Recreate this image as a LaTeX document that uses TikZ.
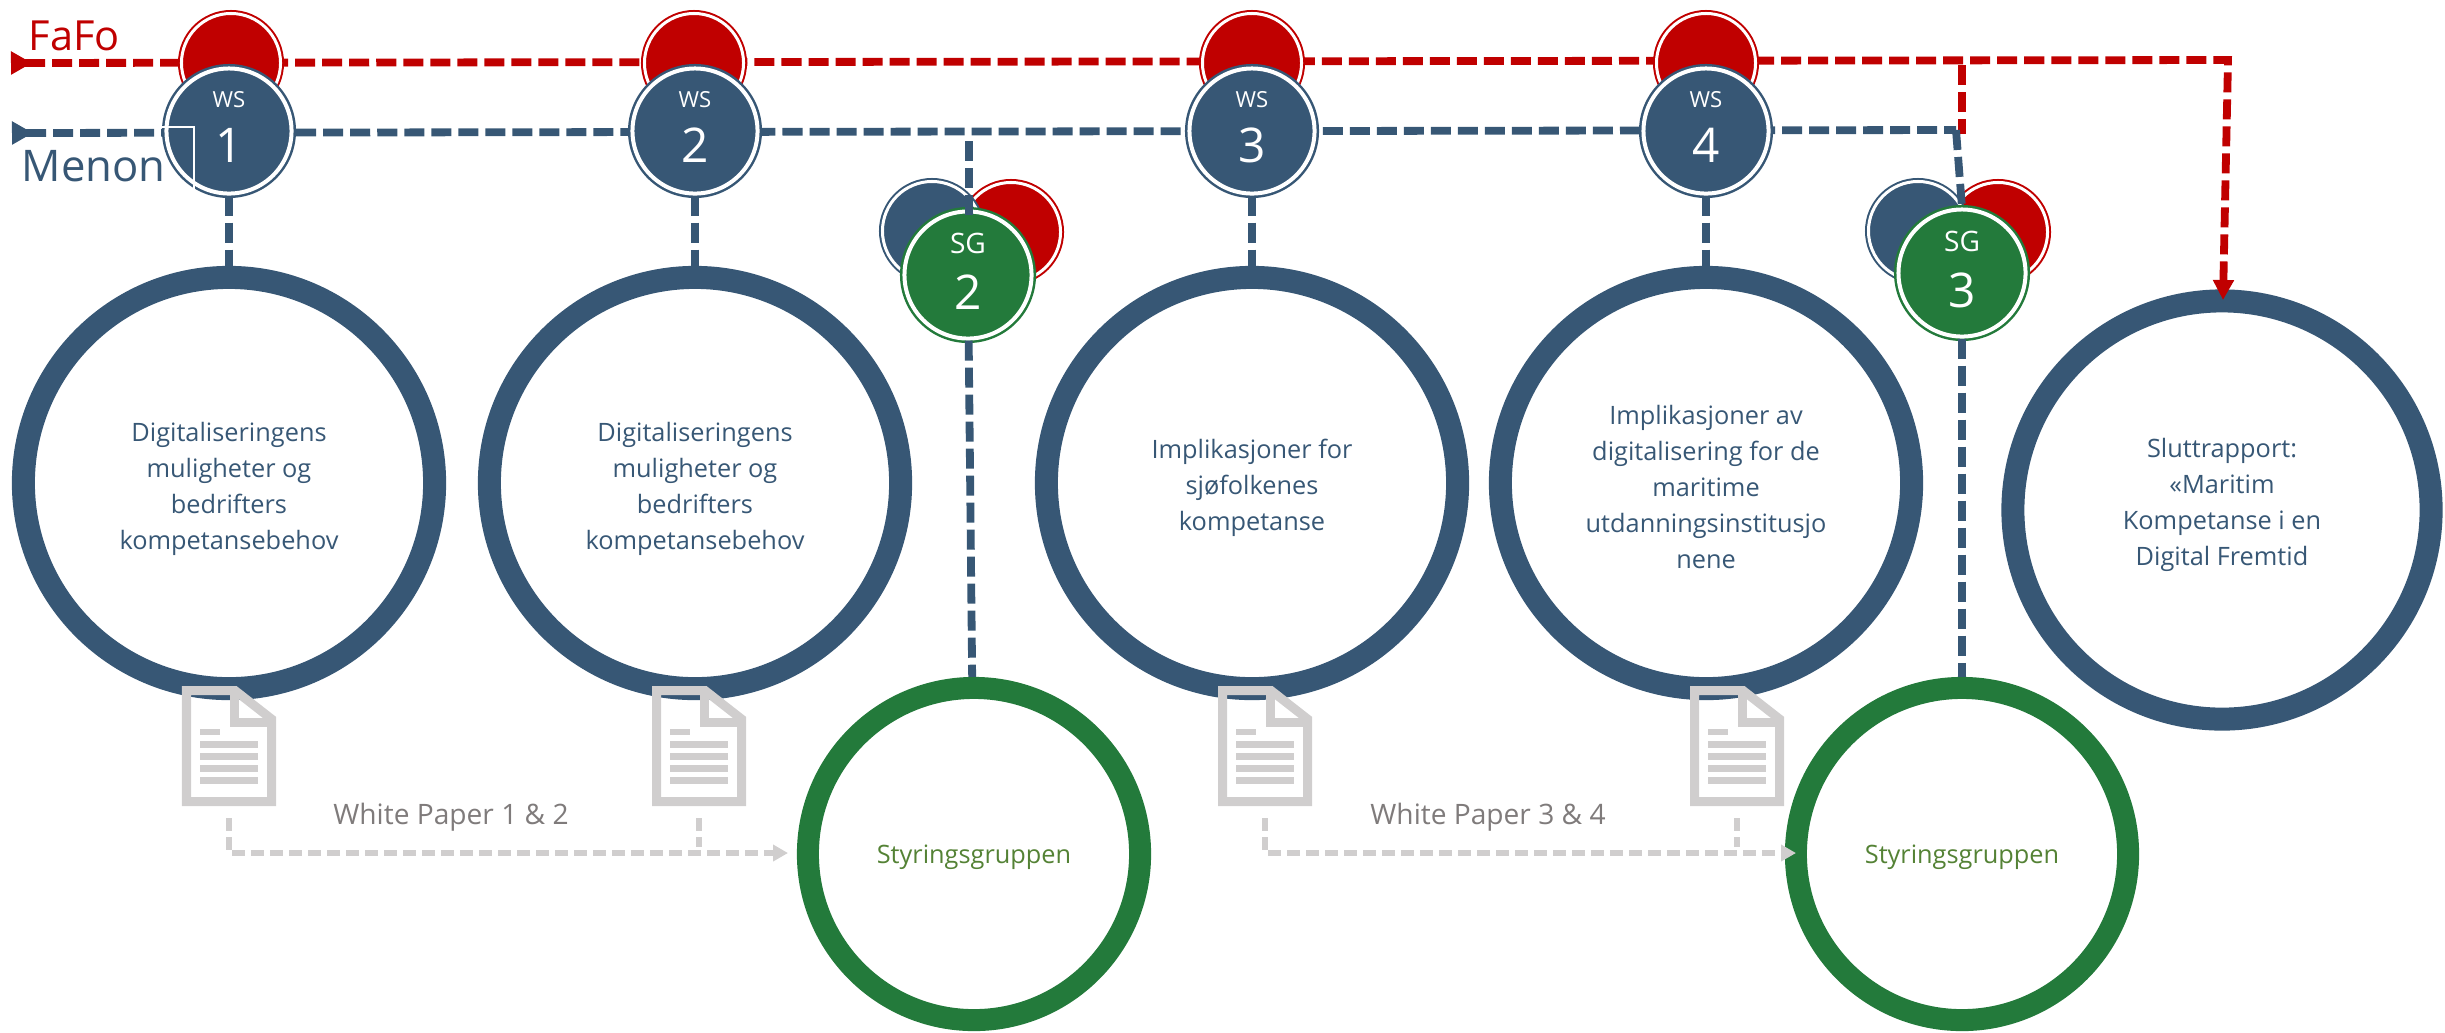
\documentclass[tikz,border=0pt]{standalone}
\usepackage{fontspec}
\setmainfont{Open Sans}
\usetikzlibrary{arrows.meta}

\definecolor{menonblue}{HTML}{375775}
\definecolor{fafored}{HTML}{C00000}
\definecolor{sggreen}{HTML}{237A3B}
\definecolor{papergrey}{HTML}{D0CECE}
\definecolor{papertext}{HTML}{7F7B7B}
\definecolor{sgtext}{HTML}{548235}

\tikzset{
  bigring/.style={circle, draw=menonblue, line width=0.23cm, minimum size=4.11cm, inner sep=0pt},
  endring/.style={bigring, minimum size=4.18cm},
  sgring/.style={bigring, draw=sggreen, line width=0.22cm, minimum size=3.32cm},
  ringtext/.style={inner sep=0pt, align=center, text=menonblue, font=\fontsize{7.2}{10.2}\selectfont},
  sgtext/.style={ringtext, text=sgtext},
  blob/.style={circle, inner sep=0pt, fill=#1, draw=white, line width=0.03cm,
    preaction={draw=#1, line width=0.07cm}, minimum size=0.99cm},
  wsdisc/.style={circle, inner sep=0pt, fill=#1, draw=white, line width=0.04cm,
    preaction={draw=#1, line width=0.09cm}, minimum size=1.25cm},
  smalltag/.style={text=white, inner sep=0pt, font=\fontsize{6.3}{8}\selectfont},
  sgtag/.style={smalltag, font=\fontsize{8}{10}\selectfont},
  bignum/.style={text=white, inner sep=0pt, font=\fontsize{13.6}{16}\selectfont},
  partner/.style={inner sep=0pt, anchor=base west, font=\fontsize{#1}{14}\selectfont},
  menonline/.style={draw=menonblue, line width=0.078cm, dash pattern=on 0.2cm off 0.07cm},
  fafoline/.style={menonline, draw=fafored},
  paperline/.style={draw=papergrey, line width=0.055cm, dash pattern=on 0.13cm off 0.06cm},
  papertag/.style={text=papertext, inner sep=0pt, font=\fontsize{8}{10}\selectfont},
  docicon/.pic={
    \draw[papergrey, line width=0.09cm, miter limit=10]
      (4.5,4.5) -- (53,4.5) -- (89.5,33) -- (89.5,115.5) -- (4.5,115.5) -- cycle;
    \draw[papergrey, line width=0.09cm] (52,4.5) -- (52,36) -- (89.5,36);
    \fill[papergrey] (18,43) rectangle (38,49);
    \foreach \j in {55,67,79,91}
      \fill[papergrey] (18,\j) rectangle (76,\j+7);
    \coordinate (-foot) at (47,132);
  }
}

\begin{document}
\begin{tikzpicture}[x=0.01cm, y=-0.01cm]
    \useasboundingbox (0,0) rectangle (2445,1032);

    % big rings
    \node[bigring] (ring1) at (229,483) {};
    \node[bigring] (ring2) at (695,483) {};
    \node[bigring] (ring3) at (1252,483) {};
    \node[bigring] (ring4) at (1706,483) {};
    \node[endring] (ring5) at (2222,510) {};
    \node[sgring] (styring1) at (974,854) {};
    \node[sgring] (styring2) at (1962,854) {};

    \node[ringtext] (text1) at ([yshift=-0.06cm]ring1) {Digitaliseringens\\muligheter og\\bedrifters\\kompetansebehov};
    \node[ringtext] (text2) at ([yshift=-0.06cm]ring2) {Digitaliseringens\\muligheter og\\bedrifters\\kompetansebehov};
    \node[ringtext] (text3) at ([yshift=-0.05cm]ring3) {Implikasjoner for\\sjøfolkenes\\kompetanse};
    \node[ringtext] (text4) at ([yshift=-0.04cm]ring4) {Implikasjoner av\\digitalisering for de\\maritime\\utdanningsinstitusjo\\nene};
    \node[ringtext] (text5) at ([yshift=0.05cm]ring5) {Sluttrapport:\\«Maritim\\Kompetanse i en\\Digital Fremtid};
    \node[sgtext] (text6) at ([yshift=-0.03cm]styring1) {Styringsgruppen};
    \node[sgtext] (text7) at ([yshift=-0.03cm]styring2) {Styringsgruppen};

    % the two long lines
    \coordinate (fafostart) at (11,63);
    \coordinate (fafocorner) at (2228,60);
    \coordinate (fafoend) at (2223,300);
    \coordinate (fafodrop) at (1962,65);
    \coordinate (menonstart) at (12,133);
    \coordinate (menoncorner) at (1956,130);
    \coordinate (menonjoin) at (1962,134);
    \coordinate (menondrop) at (969,141);
    \coordinate (sgtwotop) at (969,215);

    \draw[fafoline, {Triangle[reversed,length=0.21cm,width=0.22cm]}-{Triangle[length=0.2cm,width=0.2cm]}]
      (fafostart) -- (fafocorner) -- (fafoend);
    \draw[fafoline] (fafodrop) -- (menonjoin);
    \draw[menonline, {Triangle[reversed,length=0.21cm,width=0.22cm]}-]
      (menonstart) -- (menoncorner);

    % workshops
    \foreach \n/\x/\r in {1/229/231,2/695/694,3/1252/1252,4/1706/1706}
      {
        \node[blob=fafored] (fafo\n) at (\r,63) {};
        \node[wsdisc=menonblue] (ws\n) at (\x,131) {};
        \node[smalltag] (wstag\n) at ([yshift=0.31cm]ws\n) {WS};
        \node[bignum] (wsnum\n) at ([yshift=-0.14cm]ws\n) {\n};
        \draw[menonline] (ws\n) -- (ring\n);
      }
    \coordinate (boxa) at (162,127);
    \coordinate (boxb) at (194,127);
    \coordinate (boxc) at (194,189);
    \draw[white, line width=0.012cm] (boxa) -- (boxb) -- (boxc);

    % steering group meetings
    \foreach \n/\x/\y/\num/\b/\r in {1/968/275/2/932/1011,2/1962/273/3/1918/1998}
      {
        \node[blob=fafored] (sgred\n) at (\r,232) {};
        \node[blob=menonblue] (sgblue\n) at (\b,231) {};
        \node[wsdisc=sggreen, minimum size=1.27cm] (sg\n) at (\x,\y) {};
        \node[sgtag] (sgtag\n) at ([yshift=0.32cm]sg\n) {SG};
        \node[bignum] (sgnum\n) at ([yshift=-0.17cm]sg\n) {\num};
        \draw[menonline] (sg\n) -- (styring\n);
      }
    \draw[menonline] (menondrop) -- (sgtwotop);
    \draw[menonline] (menoncorner) -- (sg2.north);

    % white papers
    \foreach \n/\x in {1/182,2/652,3/1218,4/1690}
      \pic (doc\n) at (\x,686) {docicon};

    \coordinate (paperend1) at (788,853);
    \coordinate (paperend2) at (1796,853);
    \coordinate (paperjoin1) at (699,847);
    \coordinate (paperjoin2) at (1737,847);
    \draw[paperline, -{Triangle[length=0.15cm,width=0.16cm]}] (doc1-foot) |- (paperend1);
    \draw[paperline] (doc2-foot) -- (paperjoin1);
    \draw[paperline, -{Triangle[length=0.15cm,width=0.16cm]}] (doc3-foot) |- (paperend2);
    \draw[paperline] (doc4-foot) -- (paperjoin2);

    \node[papertag] (paper12) at (451,817) {White Paper 1 \& 2};
    \node[papertag] (paper34) at (1488,817) {White Paper 3 \& 4};

    \node[partner=11.8, text=fafored] (fafolabel) at (28,50) {FaFo};
    \node[partner=12.4, text=menonblue] (menonlabel) at (21,181) {Menon};
\end{tikzpicture}
\end{document}
